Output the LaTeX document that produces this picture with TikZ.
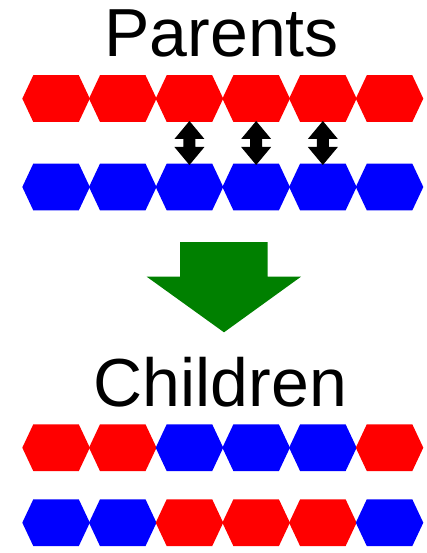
\documentclass[tikz,border=0pt]{standalone}
\usepackage{fontspec}
\setmainfont{Liberation Sans}
\definecolor{hred}{RGB}{255,0,0}
\definecolor{hblue}{RGB}{0,0,255}
\definecolor{hgreen}{RGB}{0,128,0}
\tikzset{
  title/.style={font=\fontsize{68}{80}\selectfont, inner sep=0pt, anchor=base, text=black},
  hexred/.style={fill=hred, draw=none},
  hexblue/.style={fill=hblue, draw=none},
}
\newcommand{\hexat}[3]{% #1 index, #2 center y, #3 style
  \pgfmathsetmacro{\hx}{22.3+66.7*#1}
  \fill[#3] (\hx,#2) -- ++(11,-23.4) -- ++(45.5,0) -- ++(11,23.4) -- ++(-11,23.4) -- ++(-45.5,0) -- cycle;
}
\begin{document}
\begin{tikzpicture}[x=1pt,y=-1pt]
\useasboundingbox (0,0) rectangle (427,553);
\node[title] (parents) at (221.7,56.7) {Parents};
\node[title] (children) at (220.5,406.7) {Children};
% parents rows
\foreach \i in {0,...,5} {\hexat{\i}{98.6}{hexred}}
\foreach \i in {0,...,5} {\hexat{\i}{187}{hexblue}}
% swap arrows
\foreach \i in {2,3,4} {
  \pgfmathsetmacro{\cx}{22.3+66.7*\i+33.75}
  \fill[black] (\cx,121) -- (\cx+15,139) -- (\cx+6,139) -- (\cx+6,147) -- (\cx+15,147)
    -- (\cx,165) -- (\cx-15,147) -- (\cx-6,147) -- (\cx-6,139) -- (\cx-15,139) -- cycle;
}
% green arrow
\fill[hgreen] (180,242) -- (267.7,242) -- (267.7,276.7) -- (301,276.7) -- (224,332.3)
  -- (146.7,276.7) -- (180,276.7) -- cycle;
% children rows
\foreach \i/\s in {0/hexred,1/hexred,2/hexblue,3/hexblue,4/hexblue,5/hexred} {\hexat{\i}{447.7}{\s}}
\foreach \i/\s in {0/hexblue,1/hexblue,2/hexred,3/hexred,4/hexred,5/hexblue} {\hexat{\i}{522.7}{\s}}
\end{tikzpicture}
\end{document}
